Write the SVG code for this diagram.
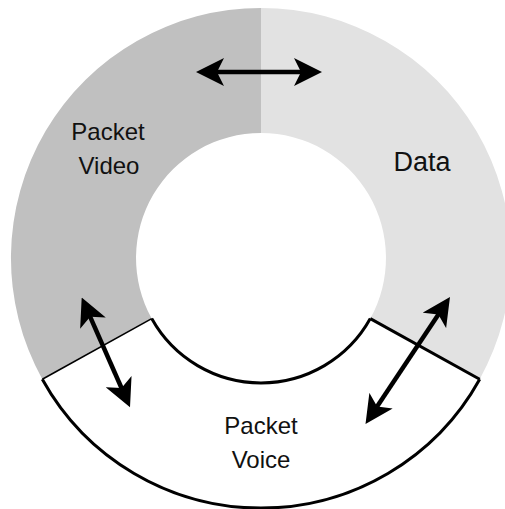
<svg xmlns="http://www.w3.org/2000/svg" width="505" height="509" viewBox="0 0 505 509">
  <style>
    .label { font-family: "Liberation Sans", Arial, sans-serif; font-size: 24px; fill: #111; text-anchor: middle; }
    .big { font-size: 27px; }
    .edge { fill: none; stroke: #000; stroke-width: 3; }
    .shaft { fill: none; stroke: #000; stroke-width: 4.5; }
  </style>
  <defs>
    <marker id="head" viewBox="0 -14 28 28" markerWidth="28" markerHeight="28" markerUnits="userSpaceOnUse" refX="8" refY="0" orient="auto-start-reverse">
      <path d="M28,0 L0,-14 L7,0 L0,14 Z" fill="#000"/>
    </marker>
  </defs>
  <rect width="505" height="509" fill="#fff"/>

  <!-- ring centre (261,258), outer r 250, inner r 125; dividers at 29 deg below horizontal -->
  <g id="packet-video">
    <path d="M261,8 A250,250 0 0 0 42.3,379.2 L151.7,318.6 A125,125 0 0 1 261,133 Z" fill="#c0c0c0"/>
    <text class="label" x="108" y="140">Packet</text>
    <text class="label" x="109" y="174">Video</text>
  </g>

  <g id="data">
    <path d="M261,8 A250,250 0 0 1 479.7,379.2 L370.3,318.6 A125,125 0 0 0 261,133 Z" fill="#e2e2e2"/>
    <text class="label big" x="422" y="171">Data</text>
  </g>

  <g id="packet-voice">
    <path d="M42.3,379.2 A250,250 0 0 0 479.7,379.2 L370.3,318.6 A125,125 0 0 1 151.7,318.6 Z" fill="#fff"/>
    <path class="edge" d="M42.3,379.2 A250,250 0 0 0 479.7,379.2"/>
    <path class="edge" d="M370.3,318.6 A125,125 0 0 1 151.7,318.6"/>
    <line class="edge" x1="479.7" y1="379.2" x2="370.3" y2="318.6"/>
    <line x1="42.3" y1="379.2" x2="151.7" y2="318.6" stroke="#000" stroke-width="1.6"/>
    <text class="label" x="261" y="434">Packet</text>
    <text class="label" x="261" y="468">Voice</text>
  </g>

  <g id="connectors">
    <line class="shaft" x1="216" y1="72" x2="302" y2="72" marker-start="url(#head)" marker-end="url(#head)"/>
    <line class="shaft" x1="89.75" y1="315.8" x2="121.95" y2="389" marker-start="url(#head)" marker-end="url(#head)"/>
    <line class="shaft" x1="438.9" y1="313.7" x2="376.6" y2="407.3" marker-start="url(#head)" marker-end="url(#head)"/>
  </g>
</svg>
